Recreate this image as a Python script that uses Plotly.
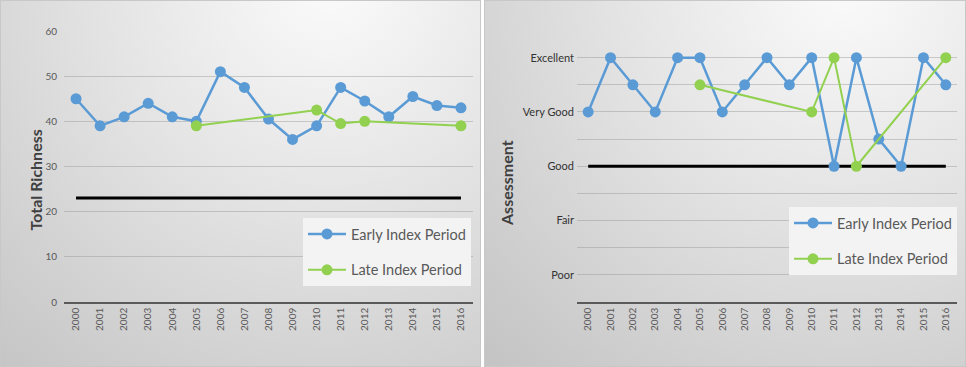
import base64
import plotly.graph_objects as go

# ---------------- data ----------------
years = [str(y) for y in range(2000, 2017)]

early_richness = [45, 39, 41, 44, 41, 40, 51, 47.5, 40.5, 36, 39, 47.5, 44.5, 41, 45.5, 43.5, 43]
late_richness = [None, None, None, None, None, 39, None, None, None, None, 42.5, 39.5, 40, None, None, None, 39]
richness_threshold = 23

assess_levels = ["Poor", "Fair", "Good", "Very Good", "Excellent"]
assess_values = [1, 2, 3, 4, 5]
early_assess = [4, 5, 4.5, 4, 5, 5, 4, 4.5, 5, 4.5, 5, 3, 5, 3.5, 3, 5, 4.5]
late_assess = [None, None, None, None, None, 4.5, None, None, None, None, 4, 5, 3, None, None, None, 5]
assess_threshold = 3

# ---------------- style ----------------
W, H = 966, 367
BLUE = "#5b9bd5"
GREEN = "#92d050"
FONT = "Lato"
GRID = "rgba(150,150,150,0.45)"


def px_x(p):
    return p / W


def px_y(p):
    return 1 - p / H


def panel_svg(w, h, cx, cy, r):
    svg = f'''<svg xmlns="http://www.w3.org/2000/svg" width="{w}" height="{h}" viewBox="0 0 {w} {h}" preserveAspectRatio="none">
<defs><radialGradient id="g" gradientUnits="userSpaceOnUse" cx="{cx}" cy="{cy}" r="{r}">
<stop offset="0" stop-color="#fbfbfb"/><stop offset="0.45" stop-color="#e3e3e3"/><stop offset="1" stop-color="#c4c4c4"/>
</radialGradient></defs>
<rect x="0.5" y="0.5" width="{w-1}" height="{h-1}" fill="url(#g)" stroke="#c8c8c8" stroke-width="1"/>
</svg>'''
    return "data:image/svg+xml;base64," + base64.b64encode(svg.encode()).decode()


fig = go.Figure()

# Left panel traces
fig.add_trace(go.Scatter(x=[years[0], years[-1]], y=[richness_threshold] * 2, mode="lines",
                         line=dict(color="black", width=3), showlegend=False, hoverinfo="skip",
                         xaxis="x", yaxis="y"))
fig.add_trace(go.Scatter(x=years, y=early_richness, mode="lines+markers", name="Early Index Period",
                         line=dict(color=BLUE, width=2.5), marker=dict(size=11, color=BLUE),
                         xaxis="x", yaxis="y", legend="legend", legendgroup="a"))
fig.add_trace(go.Scatter(x=years, y=late_richness, mode="lines+markers", name="Late Index Period",
                         connectgaps=True,
                         line=dict(color=GREEN, width=2), marker=dict(size=11, color=GREEN),
                         xaxis="x", yaxis="y", legend="legend", legendgroup="b"))

# Right panel traces
fig.add_trace(go.Scatter(x=[years[0], years[-1]], y=[assess_threshold] * 2, mode="lines",
                         line=dict(color="black", width=3), showlegend=False, hoverinfo="skip",
                         xaxis="x2", yaxis="y2"))
fig.add_trace(go.Scatter(x=years, y=early_assess, mode="lines+markers", name="Early Index Period",
                         line=dict(color=BLUE, width=2.5), marker=dict(size=11, color=BLUE),
                         xaxis="x2", yaxis="y2", legend="legend2", legendgroup="c"))
fig.add_trace(go.Scatter(x=years, y=late_assess, mode="lines+markers", name="Late Index Period",
                         connectgaps=True,
                         line=dict(color=GREEN, width=2), marker=dict(size=11, color=GREEN),
                         xaxis="x2", yaxis="y2", legend="legend2", legendgroup="d"))

# right axis ticks: labels at integer levels, gridlines at halves too
r_tickvals = []
r_ticktext = []
for i, v in enumerate(assess_values):
    r_tickvals += [v - 0.5, v]
    r_ticktext += ["", assess_levels[i]]
r_tickvals.append(assess_values[-1] + 0.5)
r_ticktext.append("")

xaxis_common = dict(type="category", categoryorder="array", categoryarray=years,
                    range=[-0.5, len(years) - 0.5], automargin=False,
                    tickangle=-90, showgrid=False, showline=True,
                    linecolor="#5a5a5a", linewidth=1.5, ticks="",
                    tickfont=dict(family=FONT, size=10, color="#595959"), fixedrange=True)

legend_common = dict(xanchor="left", yanchor="top", bgcolor="#f3f3f3", borderwidth=0,
                     tracegroupgap=14, itemwidth=38,
                     font=dict(family=FONT, size=14.5, color="#595959"))

fig.update_layout(
    width=W, height=H, autosize=False,
    margin=dict(l=0, r=0, t=0, b=0, pad=0, autoexpand=False),
    paper_bgcolor="white", plot_bgcolor="rgba(0,0,0,0)",
    font=dict(family=FONT),
    xaxis=dict(domain=[px_x(64), px_x(473)], anchor="y", **xaxis_common),
    yaxis=dict(domain=[px_y(302), px_y(31)], anchor="x", range=[0, 60], dtick=10,
               automargin=False,
               showgrid=True, gridcolor=GRID, gridwidth=1, zeroline=False, ticks="",
               ticklabelstandoff=6,
               tickfont=dict(family=FONT, size=10, color="#595959")),
    xaxis2=dict(domain=[px_x(577), px_x(957)], anchor="y2", **xaxis_common),
    yaxis2=dict(domain=[px_y(302), px_y(30.5)], anchor="x2", range=[0.5, 5.5],
                automargin=False,
                tickmode="array", tickvals=r_tickvals, ticktext=r_ticktext,
                showgrid=True, gridcolor=GRID, gridwidth=1, zeroline=False, ticks="",
                ticklabelstandoff=2,
                tickfont=dict(family=FONT, size=11, color="#333333")),
    legend=dict(x=px_x(303), y=px_y(218), **legend_common),
    legend2=dict(x=px_x(789), y=px_y(207), **legend_common),
    annotations=[
        dict(text="<b>Total Richness</b>", x=px_x(23), y=px_y(180), xref="paper", yref="paper",
             textangle=-90, showarrow=False, font=dict(family=FONT, size=16, color="#404040")),
        dict(text="<b>Assessment</b>", x=px_x(507), y=px_y(183), xref="paper", yref="paper",
             textangle=-90, showarrow=False, font=dict(family=FONT, size=16, color="#404040")),
    ],
    images=[
        dict(source=panel_svg(481, H, 330, -20, 520), xref="paper", yref="paper",
             x=0, y=1, sizex=481 / W, sizey=1, sizing="stretch", layer="below",
             xanchor="left", yanchor="top"),
        dict(source=panel_svg(482, H, 360, -20, 520), xref="paper", yref="paper",
             x=484 / W, y=1, sizex=482 / W, sizey=1, sizing="stretch", layer="below",
             xanchor="left", yanchor="top"),
    ],
)

post = ("document.body.style.margin='0';document.body.style.padding='0';"
        "var gd=document.getElementById('{plot_id}');"
        "gd.style.position='absolute';gd.style.left='0px';gd.style.top='0px';")

fig.write_html("out.html", post_script=post, config={"displayModeBar": False})
